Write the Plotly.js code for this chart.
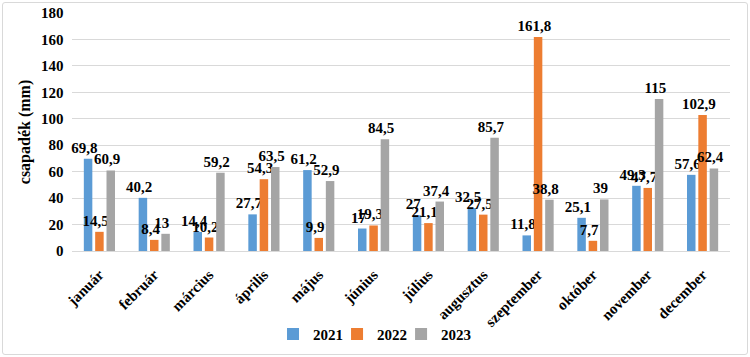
<!DOCTYPE html>
<html><head><meta charset="utf-8">
<script src="https://cdn.plot.ly/plotly-3.0.1.min.js"></script>
<style>html,body{margin:0;padding:0;background:#fff}#chart{width:750px;height:357px}
#frame{position:absolute;left:2px;top:2px;width:744px;height:351px;border:1px solid #d9d9d9;border-radius:3px;pointer-events:none}</style>
</head><body><div id="chart"></div><div id="frame"></div>
<script>
const months = ['január','február','március','április','május','június','július','augusztus','szeptember','október','november','december'];
const y2021 = [69.8, 40.2, 14.4, 27.7, 61.2, 17, 27, 32.5, 11.8, 25.1, 49.3, 57.6];
const y2022 = [14.5, 8.4, 10.2, 54.3, 9.9, 19.3, 21.1, 27.5, 161.8, 7.7, 47.7, 102.9];
const y2023 = [60.9, 13, 59.2, 63.5, 52.9, 84.5, 37.4, 85.7, 38.8, 39, 115, 62.4];
const seriesNames = ['2021','2022','2023'];
const colors = ['#5B9BD5','#ED7D31','#A5A5A5'];
const font = 'Liberation Serif';
const legendIds = ['legend','legend2','legend3'];
const traces = [y2021, y2022, y2023].map((ys, i) => ({
  type: 'bar', name: seriesNames[i], x: months, y: ys,
  marker: {color: colors[i]}, legend: legendIds[i],
  texttemplate: '%{y}', textposition: 'outside', constraintext: 'none', cliponaxis: false,
  textfont: {family: font, size: 15, color: '#000', weight: 'bold'}
}));
const legendBase = {orientation: 'h', xanchor: 'left', y: -0.28, yanchor: 'top', bgcolor: 'rgba(0,0,0,0)',
  font: {family: font, size: 15, weight: 'bold'}, itemwidth: 30};
const layout = {
  width: 750, height: 357,
  margin: {l: 72, r: 20, t: 13, b: 106, autoexpand: false},
  separators: ', ',
  barmode: 'group', bargap: 0.38, bargroupgap: 0.25,
  paper_bgcolor: '#fff', plot_bgcolor: '#fff',
  font: {family: font, color: '#000', weight: 'bold'},
  xaxis: {automargin: false, tickangle: -45, tickfont: {family: font, size: 15, weight: 'bold'}, showline: true, linecolor: '#d9d9d9', ticks: 'outside', ticklen: 8, tickcolor: 'rgba(0,0,0,0)'},
  yaxis: {automargin: false, range: [0, 180], dtick: 20, gridcolor: '#d9d9d9', zeroline: false, showline: false,
    tickfont: {family: font, size: 15, weight: 'bold'}, ticksuffix: '  ',
    title: {text: 'csapadék (mm)', font: {family: font, size: 16, weight: 'bold'}, standoff: 6}},
  legend: Object.assign({}, legendBase, {x: 0.3055}),
  legend2: Object.assign({}, legendBase, {x: 0.4028}),
  legend3: Object.assign({}, legendBase, {x: 0.5001}),
  showlegend: true
};
Plotly.newPlot('chart', traces, layout, {displayModeBar: false, staticPlot: true});
</script></body></html>
